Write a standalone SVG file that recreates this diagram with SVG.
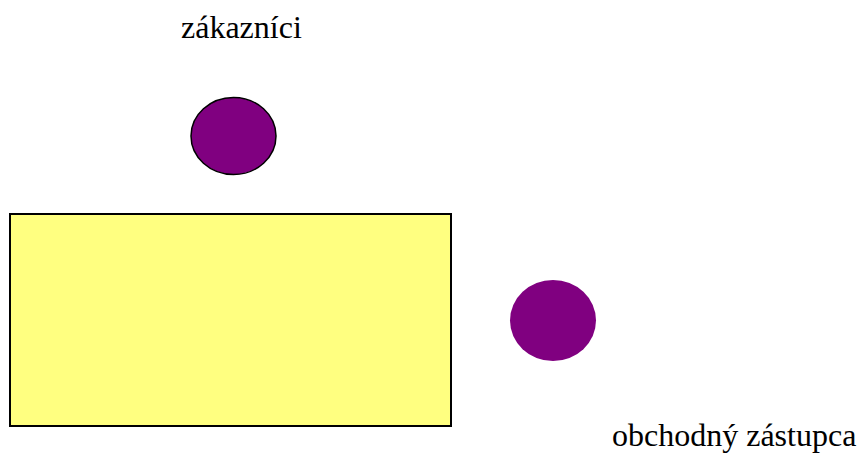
<svg xmlns="http://www.w3.org/2000/svg" width="861" height="453" viewBox="0 0 861 453">
<style>
.lbl{font-family:"Liberation Serif","Times New Roman",serif;font-size:32px;fill:#000}
.dot{fill:#800080}
</style>
<rect width="861" height="453" fill="#fff"/>
<g id="system">
<rect x="10" y="214" width="441" height="212" fill="#ffff80" stroke="#000" stroke-width="2"/>
</g>
<g id="zakaznici">
<ellipse class="dot" cx="233.5" cy="136" rx="42.5" ry="38.5" stroke="#000" stroke-width="1.5"/>
<text class="lbl" x="181" y="38">zákazníci</text>
</g>
<g id="zastupca">
<ellipse class="dot" cx="553" cy="320.5" rx="43" ry="40.5"/>
<text class="lbl" x="612" y="446">obchodný zástupca</text>
</g>
<g id="connectors"></g>
</svg>
